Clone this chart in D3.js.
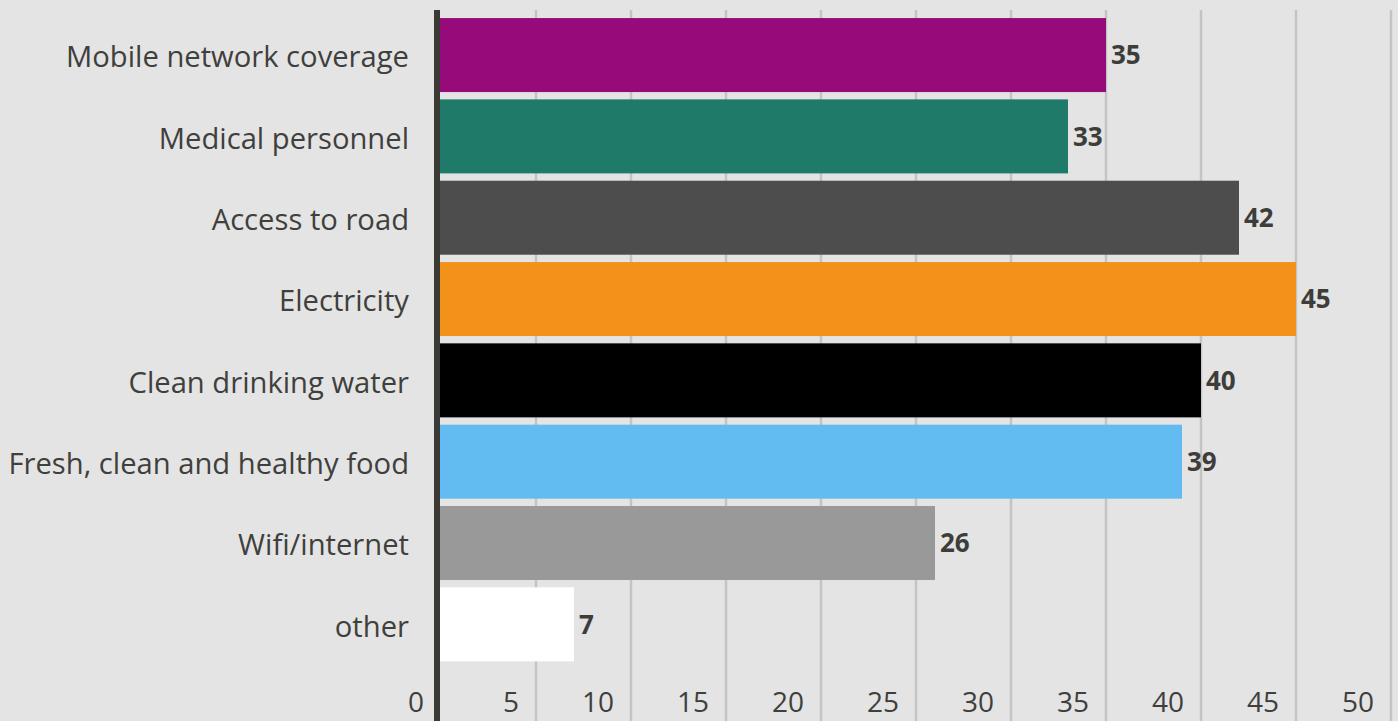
<!DOCTYPE html>
<html>
<head>
<meta charset="utf-8">
<script src="https://cdn.jsdelivr.net/npm/d3@7"></script>
<style>
  html, body { margin: 0; padding: 0; background: #e4e4e4; }
  svg { display: block; }
</style>
</head>
<body>
<svg id="chart" width="1398" height="721"></svg>
<script>
// Survey categories and their counts
const categories = [
  "Mobile network coverage",
  "Medical personnel",
  "Access to road",
  "Electricity",
  "Clean drinking water",
  "Fresh, clean and healthy food",
  "Wifi/internet",
  "other"
];
const values = [35, 33, 42, 45, 40, 39, 26, 7];
const barColors = ["#960a7a", "#1f7a6a", "#4d4d4d", "#f3921a", "#000000", "#62bcf2", "#999999", "#ffffff"];
const tickValues = [0, 5, 10, 15, 20, 25, 30, 35, 40, 45, 50];

const W = 1398, H = 721;
const svg = d3.select("#chart");
const font = "'Open Sans', 'Noto Sans', sans-serif";

svg.append("rect").attr("width", W).attr("height", H).attr("fill", "#e4e4e4");

const x = d3.scaleLinear().domain([0, 50]).range([441, 1391]);
const y = d3.scaleBand().domain(categories).range([14.4, 665]).paddingInner(0.09).paddingOuter(0.045);

const plotTop = 10;

// vertical gridlines
svg.append("g").selectAll("line")
  .data(tickValues.filter(d => d > 0))
  .join("line")
  .attr("x1", d => x(d)).attr("x2", d => x(d))
  .attr("y1", plotTop).attr("y2", H)
  .attr("stroke", "#c4c4c4").attr("stroke-width", 2.5);

// bars
svg.append("g").selectAll("rect")
  .data(categories)
  .join("rect")
  .attr("x", x(0) - 1)
  .attr("y", d => y(d))
  .attr("width", (d, i) => x(values[i]) - x(0) + 1)
  .attr("height", y.bandwidth())
  .attr("fill", (d, i) => barColors[i]);

// value axis line
svg.append("rect")
  .attr("x", x(0) - 7).attr("y", plotTop)
  .attr("width", 6).attr("height", H - plotTop)
  .attr("fill", "#3b3a35");

// value labels
svg.append("g").selectAll("text")
  .data(categories)
  .join("text")
  .attr("x", (d, i) => x(values[i]) + 5)
  .attr("y", d => y(d) + y.bandwidth() / 2)
  .attr("dy", "0.36em")
  .attr("font-family", font).attr("font-size", 26).attr("font-weight", "bold")
  .attr("fill", "#3d3d3a")
  .text((d, i) => values[i]);

// category labels
svg.append("g").selectAll("text")
  .data(categories)
  .join("text")
  .attr("x", 409)
  .attr("y", d => y(d) + y.bandwidth() / 2)
  .attr("dy", "0.42em")
  .attr("text-anchor", "end")
  .attr("font-family", font).attr("font-size", 29.2)
  .attr("fill", "#3f3f3c")
  .text(d => d);

// x tick labels
svg.append("g").selectAll("text")
  .data(tickValues)
  .join("text")
  .attr("x", d => x(d) - 17)
  .attr("y", 712)
  .attr("text-anchor", "end")
  .attr("font-family", font).attr("font-size", 28)
  .attr("fill", "#3f3f3c")
  .text(d => d);
</script>
</body>
</html>
